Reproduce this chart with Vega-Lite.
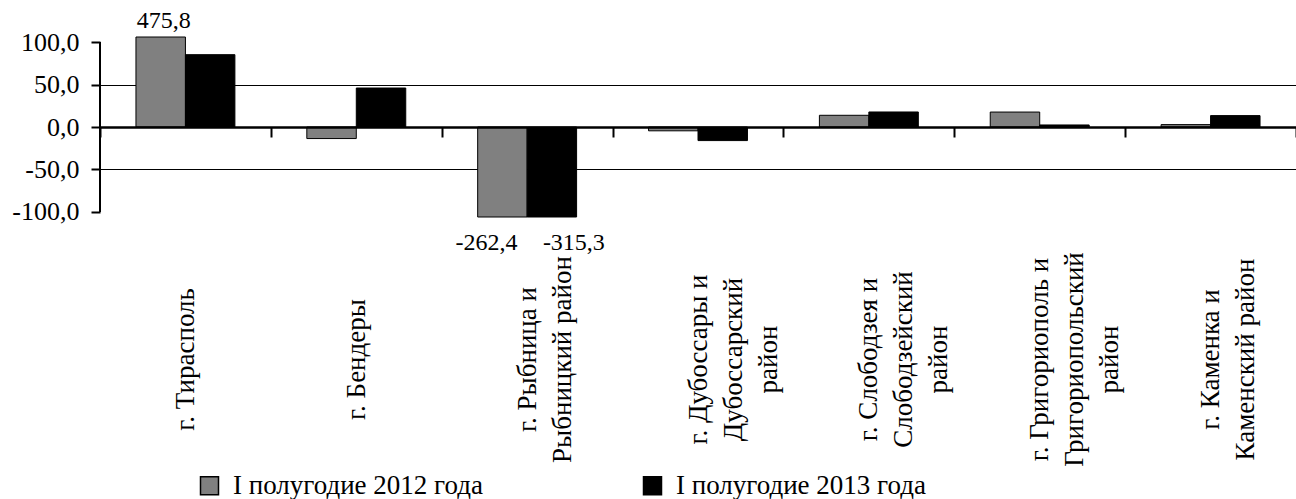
{
  "$schema": "https://vega.github.io/schema/vega-lite/v6.json",
  "width": 1196,
  "height": 180,
  "autosize": {"type": "none"},
  "padding": {"left": 100, "top": 37, "right": 0, "bottom": 282},
  "background": "white",
  "config": {
    "locale": {"number": {"decimal": ",", "thousands": " ", "grouping": [3], "currency": ["", ""], "minus": "-"}},
    "font": "'Liberation Serif', 'Times New Roman', serif",
    "view": {"stroke": null},
    "axis": {"labelFont": "'Liberation Serif', 'Times New Roman', serif", "labelColor": "black"},
    "legend": {"labelFont": "'Liberation Serif', 'Times New Roman', serif"}
  },
  "data": {
    "values": [
      {"region": "г. Тирасполь", "period": "I полугодие 2012 года", "value": 475.8},
      {"region": "г. Тирасполь", "period": "I  полугодие 2013 года", "value": 85.2},
      {"region": "г. Бендеры", "period": "I полугодие 2012 года", "value": -13.6},
      {"region": "г. Бендеры", "period": "I  полугодие 2013 года", "value": 45.9},
      {"region": "г. Рыбница и\nРыбницкий район", "period": "I полугодие 2012 года", "value": -262.4},
      {"region": "г. Рыбница и\nРыбницкий район", "period": "I  полугодие 2013 года", "value": -315.3},
      {"region": "г. Дубоссары и\nДубоссарский\nрайон", "period": "I полугодие 2012 года", "value": -4.5},
      {"region": "г. Дубоссары и\nДубоссарский\nрайон", "period": "I  полугодие 2013 года", "value": -16.0},
      {"region": "г. Слободзея и\nСлободзейский\nрайон", "period": "I полугодие 2012 года", "value": 13.8},
      {"region": "г. Слободзея и\nСлободзейский\nрайон", "period": "I  полугодие 2013 года", "value": 17.7},
      {"region": "г. Григориополь и\nГригориопольский\nрайон", "period": "I полугодие 2012 года", "value": 17.6},
      {"region": "г. Григориополь и\nГригориопольский\nрайон", "period": "I  полугодие 2013 года", "value": 2.4},
      {"region": "г. Каменка и\nКаменский район", "period": "I полугодие 2012 года", "value": 2.8},
      {"region": "г. Каменка и\nКаменский район", "period": "I  полугодие 2013 года", "value": 13.4}
    ]
  },
  "layer": [
    {
      "mark": {"type": "bar", "stroke": "black", "strokeWidth": 1},
      "encoding": {
        "x": {
          "field": "region", "type": "nominal", "sort": null,
          "scale": {"paddingInner": 0, "paddingOuter": 0},
          "axis": {
            "title": null, "orient": "bottom", "offset": -90, "zindex": 1,
            "domain": true, "domainColor": "black", "domainWidth": 2.5,
            "ticks": true, "tickColor": "black", "tickWidth": 2, "tickSize": 10, "tickBand": "extent",
            "grid": false,
            "labelAngle": -90, "labelAlign": "center", "labelBaseline": "middle",
            "labelFontSize": 27, "labelLineHeight": 35, "labelLimit": 400,
            "labelExpr": "split(datum.label, '\\n')",
            "labelPadding": 222,
            "labelOverlap": false
          }
        },
        "xOffset": {
          "field": "period", "type": "nominal", "sort": null,
          "scale": {"paddingInner": 0, "paddingOuter": 0.727}
        },
        "y": {
          "field": "value", "type": "quantitative",
          "scale": {"domain": [-106, 106], "clamp": true, "nice": false},
          "axis": {
            "title": null, "values": [-100, -50, 0, 50, 100], "format": ".1f",
            "domain": false, "ticks": true, "tickColor": "black", "tickWidth": 2, "tickSize": 9,
            "labelFontSize": 26, "labelPadding": 12,
            "grid": true, "gridColor": "black", "gridWidth": 1,
            "gridOpacity": {"condition": {"test": "abs(datum.value) == 100 || datum.value == 0", "value": 0}, "value": 1}
          }
        },
        "color": {
          "field": "period", "type": "nominal",
          "scale": {"domain": ["I полугодие 2012 года", "I  полугодие 2013 года"], "range": ["#808080", "#000000"]},
          "legend": {
            "title": null, "orient": "none", "direction": "horizontal", "columns": 2,
            "legendX": 96, "legendY": 435, "padding": 0,
            "symbolType": "square", "symbolSize": 324, "symbolStrokeColor": "black", "symbolStrokeWidth": 1.5,
            "labelFontSize": 27, "labelColor": "black", "labelOffset": 10, "labelLimit": 500,
            "columnPadding": 156
          }
        }
      }
    },
    {
      "data": {"values": [{}]},
      "mark": {"type": "rule", "color": "black", "strokeWidth": 2},
      "encoding": {
        "x": {"datum": "г. Тирасполь", "type": "nominal", "bandPosition": 0},
        "y": {"datum": -100, "type": "quantitative"},
        "y2": {"datum": 100}
      }
    },
    {
      "transform": [{"filter": "datum.value > 100"}],
      "mark": {"type": "text", "fontSize": 24, "color": "black", "baseline": "alphabetic", "align": "center", "dx": 3, "dy": -9},
      "encoding": {
        "x": {"field": "region", "type": "nominal", "sort": null},
        "xOffset": {"field": "period", "type": "nominal", "sort": null},
        "y": {"field": "value", "type": "quantitative"},
        "text": {"field": "value", "type": "quantitative", "format": ".1f"}
      }
    },
    {
      "transform": [{"filter": "datum.value < -100 && datum.period == 'I полугодие 2012 года'"}],
      "mark": {"type": "text", "fontSize": 24, "color": "black", "baseline": "alphabetic", "align": "center", "dx": -16, "dy": 33},
      "encoding": {
        "x": {"field": "region", "type": "nominal", "sort": null},
        "xOffset": {"field": "period", "type": "nominal", "sort": null},
        "y": {"field": "value", "type": "quantitative"},
        "text": {"field": "value", "type": "quantitative", "format": ".1f"}
      }
    },
    {
      "transform": [{"filter": "datum.value < -100 && datum.period != 'I полугодие 2012 года'"}],
      "mark": {"type": "text", "fontSize": 24, "color": "black", "baseline": "alphabetic", "align": "center", "dx": 22, "dy": 33},
      "encoding": {
        "x": {"field": "region", "type": "nominal", "sort": null},
        "xOffset": {"field": "period", "type": "nominal", "sort": null},
        "y": {"field": "value", "type": "quantitative"},
        "text": {"field": "value", "type": "quantitative", "format": ".1f"}
      }
    }
  ]
}
